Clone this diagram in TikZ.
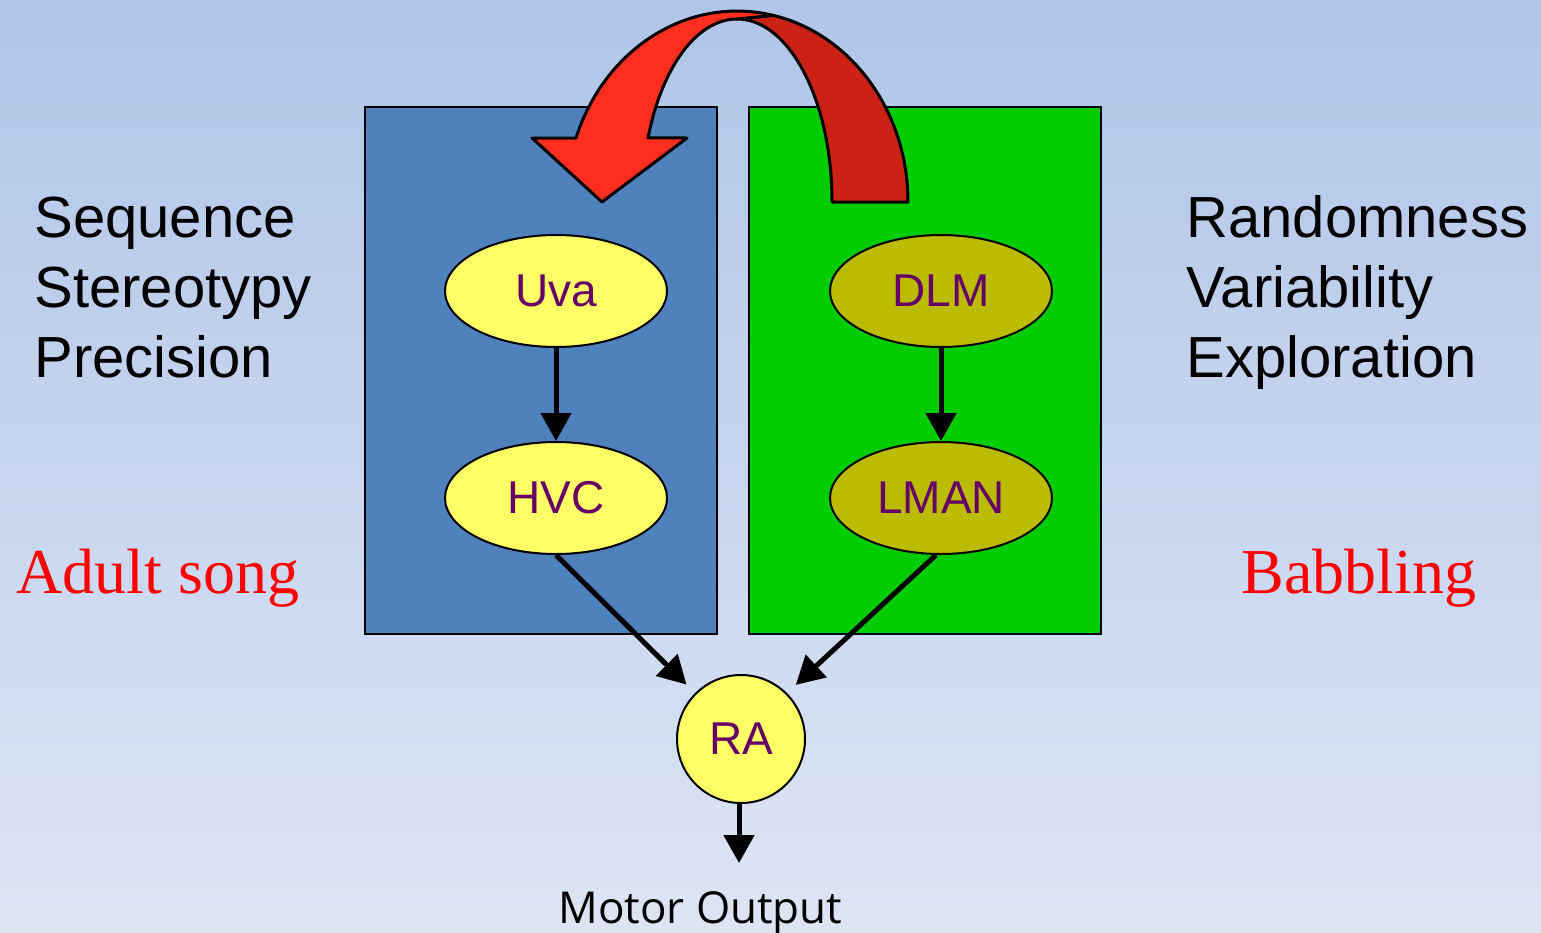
\documentclass[tikz,border=0pt]{standalone}
\usepackage{fontspec}
\setmainfont{Liberation Sans}
\newfontfamily\serifft{Liberation Serif}
\newfontfamily\motorfont{Open Sans}
\usetikzlibrary{shapes.geometric,arrows.meta}
\definecolor{bgtop}{RGB}{176,197,232}
\definecolor{bgbot}{RGB}{221,229,244}
\definecolor{boxblue}{RGB}{79,129,189}
\definecolor{boxgreen}{RGB}{0,204,0}
\definecolor{nucyellow}{RGB}{255,255,102}
\definecolor{nucolive}{RGB}{187,187,0}
\definecolor{txtpurple}{RGB}{102,0,102}
\definecolor{ribred}{RGB}{255,46,31}
\definecolor{ribdark}{RGB}{204,34,22}
\tikzset{
  nucleus/.style={ellipse, draw=black, line width=1pt, minimum width=111pt, minimum height=56pt,
    inner sep=0pt, text=txtpurple, font=\fontsize{23}{27}\selectfont},
  bigtext/.style={anchor=base west, inner sep=0pt, font=\fontsize{29}{34}\selectfont},
  redtext/.style={anchor=base west, inner sep=0pt, text=red, font=\serifft\fontsize{32}{38}\selectfont},
  conn/.style={line width=2.5pt, -{Triangle[length=14pt,width=15pt]}},
  regionbox/.style={draw=black, line width=1pt},
  ribbon/.style={draw=black, line width=1.5pt, line join=round}
}
\begin{document}
\begin{tikzpicture}[x=0.5pt,y=-0.5pt]
\useasboundingbox (0,0) rectangle (1541,932);
\shade[top color=bgtop, bottom color=bgbot] (0,0) rectangle (1541,932);
% region boxes
\filldraw[regionbox, fill=boxblue] (365,107) rectangle (717,634);
\filldraw[regionbox, fill=boxgreen] (749,107) rectangle (1101,634);
% ribbon arrow
\filldraw[ribbon, fill=ribdark] (832,202) -- (908,202)
  arc[start angle=0, end angle=-77.8, x radius=171, y radius=191] -- (737,19)
  arc[start angle=-90, end angle=0, x radius=95, y radius=183] -- cycle;
\filldraw[ribbon, fill=ribred] (576,138)
  arc[start angle=-160.4, end angle=-77.8, x radius=171, y radius=191] -- (737,19)
  arc[start angle=-90, end angle=-159.5, x radius=95, y radius=183]
  -- (687,138) -- (602,202) -- (532,138) -- cycle;
% nuclei
\node[nucleus, fill=nucyellow] (uva) at (556,291) {Uva};
\node[nucleus, fill=nucyellow] (hvc) at (556,498) {HVC};
\node[nucleus, fill=nucolive] (dlm) at (941,291) {DLM};
\node[nucleus, fill=nucolive] (lman) at (941,498) {LMAN};
\node[circle, draw=black, line width=1pt, fill=nucyellow, minimum size=64pt, inner sep=0pt,
  text=txtpurple, font=\fontsize{23}{27}\selectfont] (ra) at (741,739) {RA};
\coordinate (outtip) at (739,863);
% connectors
\draw[conn] (uva) -- (hvc);
\draw[conn] (dlm) -- (lman);
\draw[conn, shorten >=6pt] (hvc.south) -- (ra.north west);
\draw[conn, shorten >=6pt] (lman.265) -- (ra.north east);
\draw[conn] (ra.south -| outtip) -- (outtip);
% texts
\node[bigtext] (seq) at (34,237) {Sequence};
\node[bigtext] (ster) at (34,307) {Stereotypy};
\node[bigtext] (prec) at (34,377) {Precision};
\node[bigtext] (rand) at (1186,237) {Randomness};
\node[bigtext] (vari) at (1186,307) {Variability};
\node[bigtext] (expl) at (1186,377) {Exploration};
\node[redtext] (adult) at (16,593) {Adult song};
\node[redtext] (babb) at (1241,593) {Babbling};
\node[anchor=base west, inner sep=0pt, font=\motorfont\fontsize{22}{26}\selectfont] (motor) at (558,923) {Motor Output};
\end{tikzpicture}
\end{document}
